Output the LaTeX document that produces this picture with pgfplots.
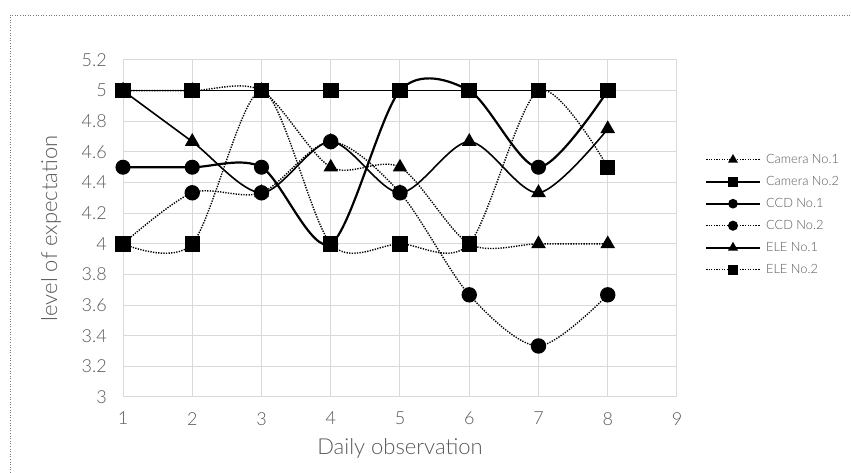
\documentclass[border=0pt]{standalone}
\usepackage{fontspec}
\setmainfont{Lato}[UprightFont=* Light]
\usepackage{pgfplots}
\pgfplotsset{compat=1.18}
\definecolor{txt}{RGB}{89,89,89}
\definecolor{gridc}{RGB}{217,217,217}
\definecolor{brd}{RGB}{120,120,120}
\tikzset{
  dotl/.style={black, line width=1.4bp, dash pattern=on 1.3bp off 1.3bp},
  soll/.style={black, line width=1.6bp},
  thkl/.style={black, line width=2.2bp},
}
\begin{document}
\begin{tikzpicture}
\useasboundingbox (0bp,0bp) rectangle (851bp,473bp);
\draw[brd, line width=0.8bp, dash pattern=on 1bp off 1.6bp] (10bp,0bp) -- (10bp,458bp) -- (851bp,458bp);
\begin{axis}[
  at={(123bp,76bp)}, anchor=south west,
  scale only axis, width=554bp, height=337bp,
  xmin=1, xmax=9, ymin=3, ymax=5.2,
  xtick={1,2,3,4,5,6,7,8,9},
  ytick={3,3.2,3.4,3.6,3.8,4,4.2,4.4,4.6,4.8,5,5.2},
  yticklabels={3,3.2,3.4,3.6,3.8,4,4.2,4.4,4.6,4.8,5,5.2},
  grid=major,
  major grid style={gridc, line width=1bp},
  axis line style={gridc, line width=1bp},
  major tick length=0pt,
  tick style={draw=none},
  /pgf/number format/assume math mode=true,
  ticklabel style={font=\fontsize{18bp}{21bp}\selectfont, text=txt},
  yticklabel style={inner sep=0pt, anchor=east, xshift=-16bp},
  xticklabel style={inner sep=0pt, anchor=north, yshift=-15bp},
  xlabel={Daily observation},
  ylabel={level of expectation},
  label style={font=\fontsize{22bp}{26bp}\selectfont, text=txt},
  xlabel style={at={(axis description cs:0.5,-0.172)}, anchor=base, inner sep=0pt},
  ylabel style={at={(axis description cs:-0.119,0.5)}, anchor=base, rotate=0, inner sep=0pt},
  legend cell align=left,
  legend style={draw=none, fill=none, inner sep=0pt,
    at={(axis description cs:1.05,0.724)}, anchor=north west,
    font=\fontsize{12.8bp}{15bp}\selectfont, text=txt,
    nodes={inner sep=0pt, text height=10bp, text depth=3bp},
    row sep=9bp, column sep=5bp},
  legend image code/.code={\draw[mark repeat=2,mark phase=2,#1,mark size=4.3bp] plot coordinates {(0bp,0bp) (27bp,0bp) (54bp,0bp)};},
  every axis plot/.append style={smooth},
]
\addplot[dotl, mark=triangle*, mark size=7bp, mark options={solid, fill=black}]
  coordinates {(1,5) (2,5) (3,5) (4,4.5) (5,4.5) (6,4) (7,4) (8,4)};
\addlegendentry{Camera No.1}
\addplot[soll, mark=square*, mark size=7bp, mark options={solid, fill=black}]
  coordinates {(1,5) (2,5) (3,5) (4,5) (5,5) (6,5) (7,5) (8,5)};
\addlegendentry{Camera No.2}
\addplot[thkl, mark=*, mark size=7bp, mark options={solid, fill=black, line width=1bp}]
  coordinates {(1,4.5) (2,4.5) (3,4.5) (4,4) (5,5) (6,5) (7,4.5) (8,5)};
\addlegendentry{CCD No.1}
\addplot[dotl, mark=*, mark size=7bp, mark options={solid, fill=black}]
  coordinates {(1,4) (2,4.333) (3,4.333) (4,4.667) (5,4.333) (6,3.667) (7,3.333) (8,3.667)};
\addlegendentry{CCD No.2}
\addplot[soll, mark=triangle*, mark size=7bp, mark options={solid, fill=black}]
  coordinates {(1,5) (2,4.667) (3,4.333) (4,4.667) (5,4.333) (6,4.667) (7,4.333) (8,4.75)};
\addlegendentry{ELE No.1}
\addplot[dotl, mark=square*, mark size=7bp, mark options={solid, fill=black}]
  coordinates {(1,4) (2,4) (3,5) (4,4) (5,4) (6,4) (7,5) (8,4.5)};
\addlegendentry{ELE No.2}
\end{axis}
\end{tikzpicture}
\end{document}
